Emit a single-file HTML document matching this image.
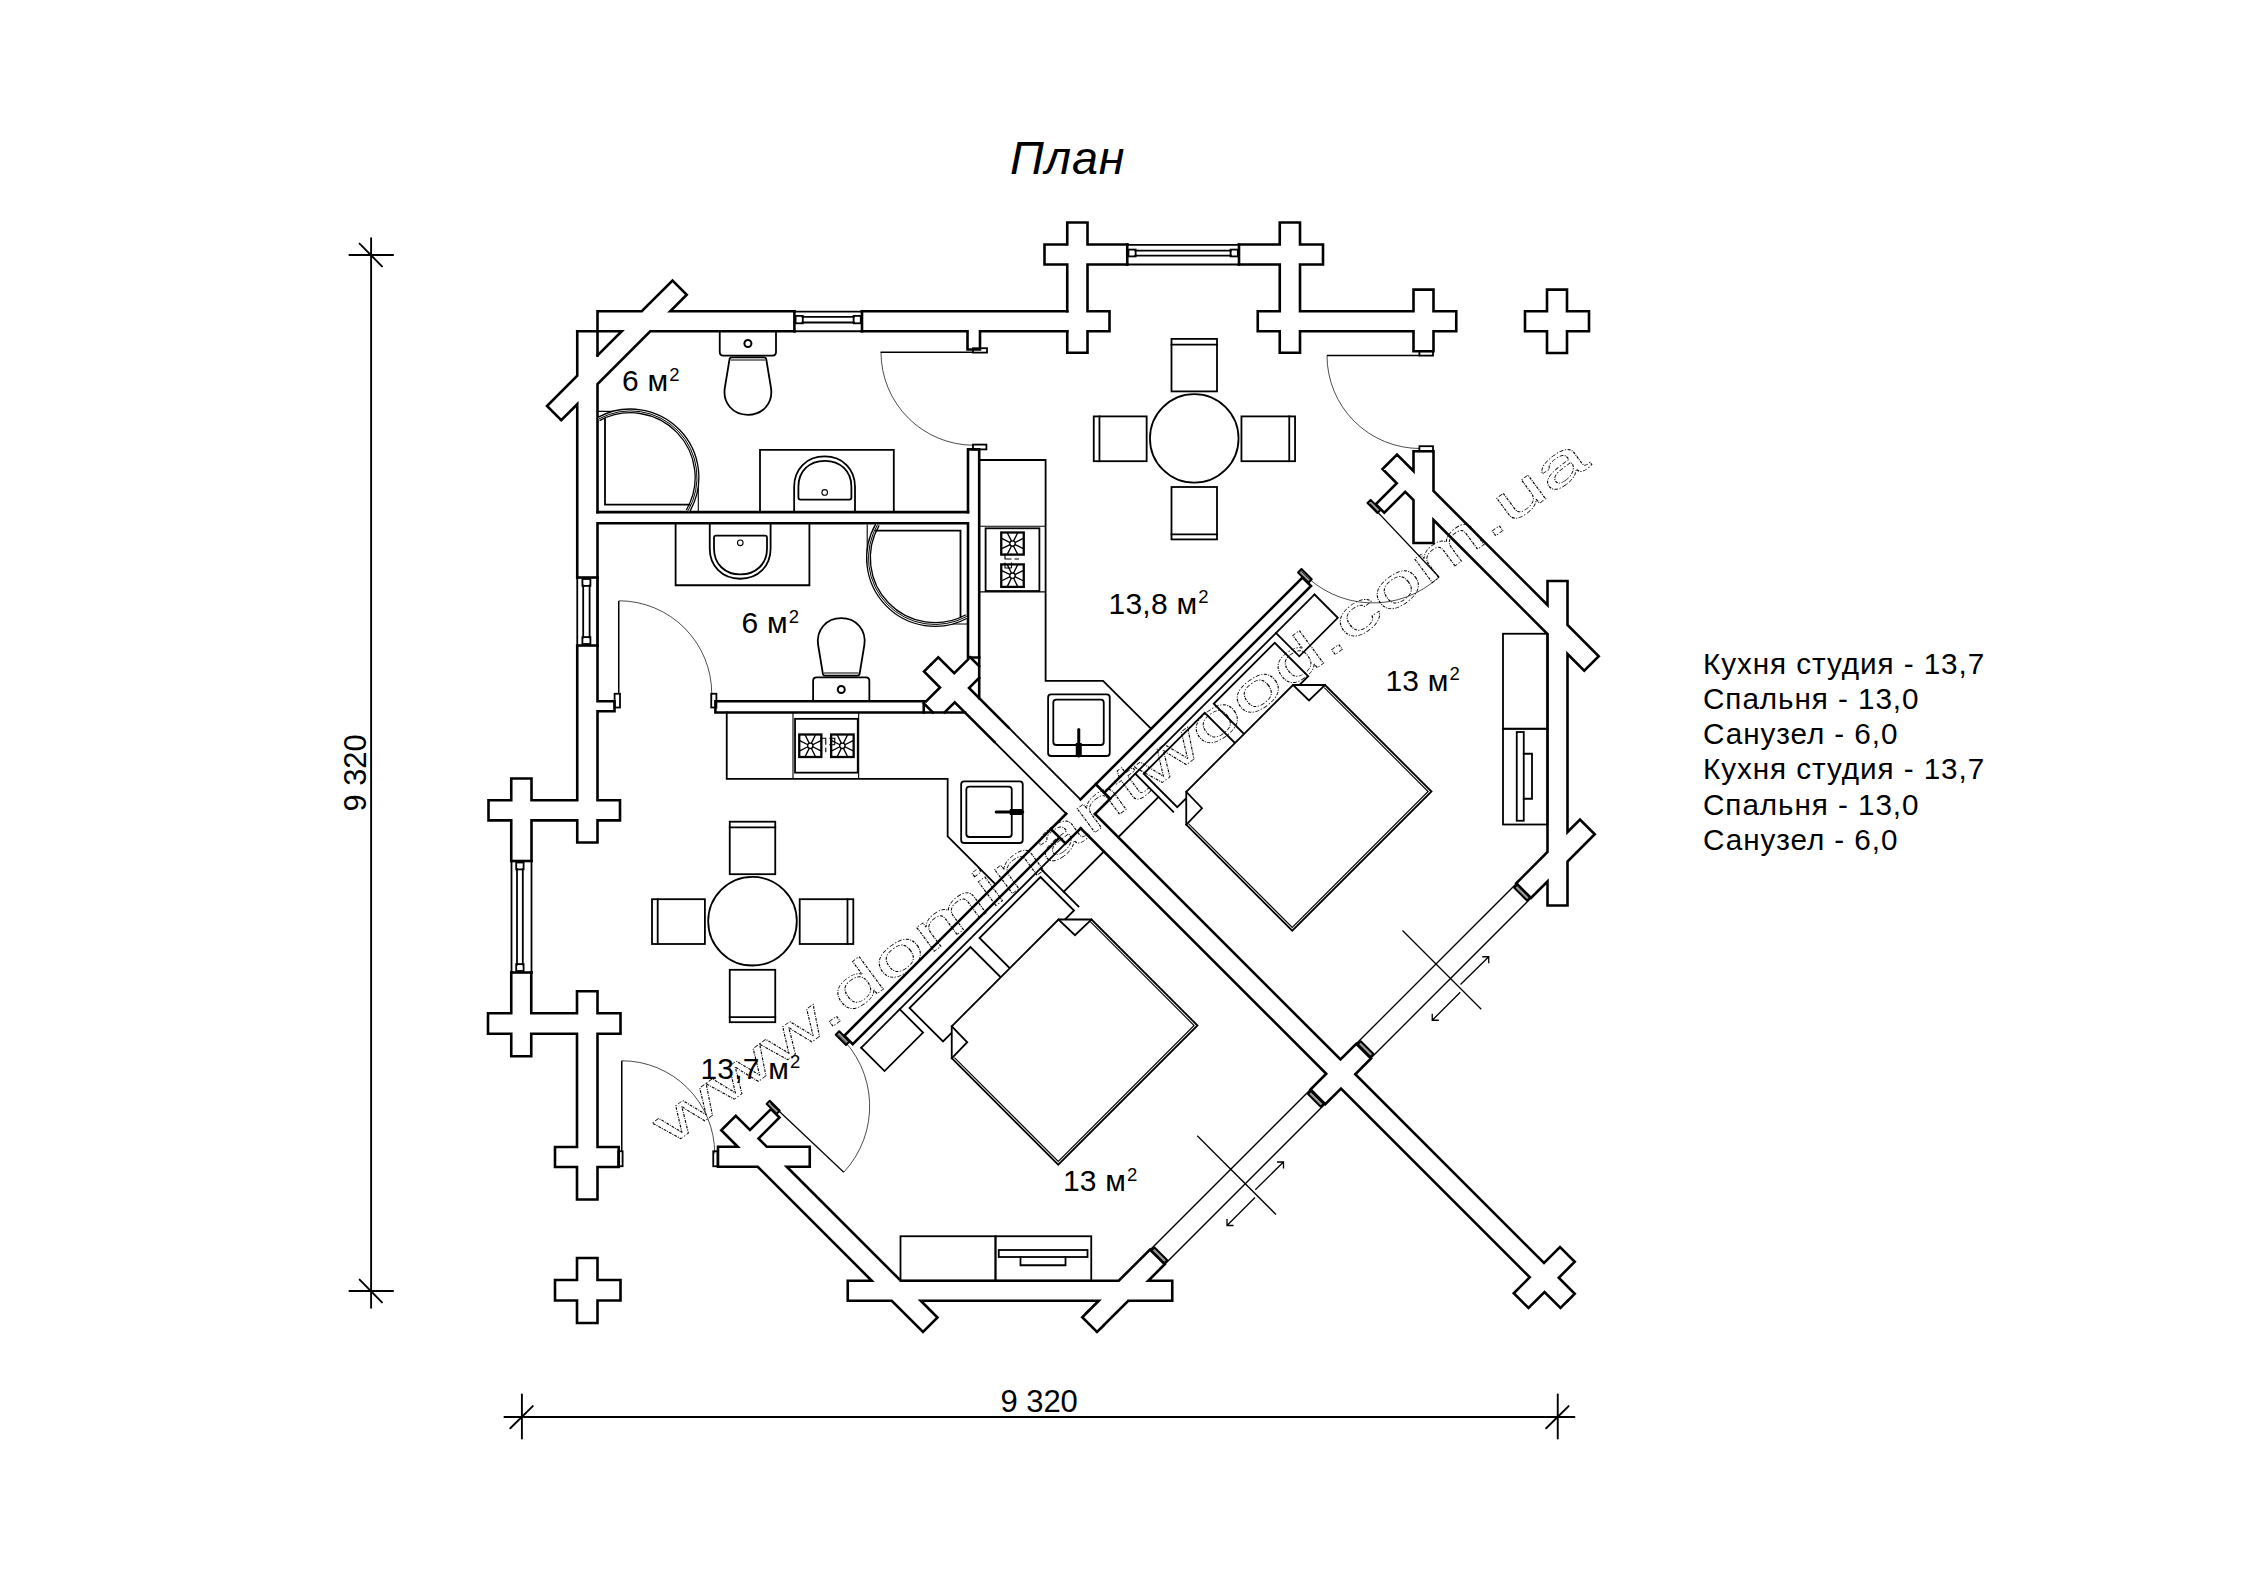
<!DOCTYPE html>
<html lang="ru"><head><meta charset="utf-8"><title>План</title>
<style>
html,body{margin:0;padding:0;background:#fff}
svg{display:block}
text{font-family:"Liberation Sans",sans-serif;fill:#000}
.w{fill:none;stroke:#000;stroke-width:2.6;stroke-linecap:square;stroke-linejoin:miter}
.f{fill:none;stroke:#000;stroke-width:1.8;stroke-linecap:square}
.s{fill:none;stroke:#000;stroke-width:1.35}
.x{fill:#fff;stroke:none}
.b{fill:none;stroke:#000;stroke-width:2.3}
.l{fill:none;stroke:#000;stroke-width:1.25}
.d{fill:none;stroke:#000;stroke-width:1.5}
.t{fill:none;stroke:#000;stroke-width:1.1}
.n{fill:none;stroke:#000;stroke-width:1.3}
.a{fill:none;stroke:#000;stroke-width:0.7}
.h{fill:#999;stroke:#000;stroke-width:2;stroke-linejoin:round}
.dm{fill:none;stroke:#000;stroke-width:1.9;stroke-linecap:round}
</style></head><body>
<svg width="2245" height="1587" viewBox="0 0 2245 1587">
<rect width="2245" height="1587" fill="#fff"/>
<g id="half">
<polygon class="w" points="1413.5,451.25 1433.5,451.25 1433.5,491 1547.5,605 1547.5,581 1567.5,581 1567.5,625 1598.75,656.25 1584.25,670.75 1567.5,654 1567.5,832 1580,819.5 1594.75,834.25 1567.5,861.5 1567.5,905.5 1547.5,905.5 1547.5,881.5 1531,898 1516.25,883.25 1547.5,852 1547.5,634 1433.5,520 1433.5,543 1413.5,543 1413.5,500 1405.25,491.75 1384.25,512.75 1375.75,504.25 1396.75,483.25 1382.5,469 1397,454.5 1413.5,471"/>
<polygon class="h" points="1367.5,503 1370.65,499.85 1380.65,509.85 1377.5,513"/>
<polygon class="h" points="1298.05,572.45 1301.5,569 1311.75,579.25 1308.3,582.7"/>
<path class="l" d="M1370 504L1439 577"/>
<path class="a" d="M1439 577A97 97 0 0 1 1301.5 571.5"/>
<polyline class="w" points="1080.5,799.5 1302.5,577.5 1311,586 1104.25,792.75"/>
<polyline class="w" points="1095.75,784.25 1110.25,798.75 1095,814"/>
<polyline class="w" points="931.12,664.38 938.25,657.25 954.25,673.25 968,659.5"/>
<path class="w" d="M970.25 657.25L979.2 666.2"/>
<polyline class="w" points="979.2,677.8 969,688 1008.5,727.5"/>
<path class="f" d="M1008.5 727.5L1080.5 799.5"/>
<polyline class="w" points="1095,814 1340.5,1059.5 1356.25,1043.75 1371,1058.5 1355.25,1074.25 1544,1263 1560,1247 1574.75,1261.75 1558.75,1277.75 1574.75,1293.75 1567.62,1300.88"/>
<path class="s" d="M1356.25 1043.75L1516.5 883.5"/>
<path class="s" d="M1370.75 1058.25L1531 898"/>
<polygon class="h" points="1357.75,1044.25 1360.75,1041.25 1373.5,1054 1370.5,1057"/>
<polygon class="h" points="1514.25,887.75 1517.25,884.75 1530,897.5 1527,900.5"/>
<polyline class="f" points="979.2,460 1045.6,460 1045.6,680.9 1103.1,680.9 1150.3,728"/>
<path class="t" d="M979.2 526.25L1045.6 526.25"/>
<path class="t" d="M979.2 591.9L1045.6 591.9"/>
<rect class="f" x="985.6" y="528.3" width="53.8" height="62.7"/>
<rect class="b" x="1001.25" y="532.5" width="22.5" height="22.1"/>
<path class="s" d="M1014.9 544.54L1023.75 548.91M1013.49 545.95L1017.86 554.6M1011.51 545.95L1007.14 554.6M1010.1 544.54L1001.25 548.91M1010.1 542.56L1001.25 538.19M1011.51 541.15L1007.14 532.5M1013.49 541.15L1017.86 532.5M1014.9 542.56L1023.75 538.19"/>
<circle class="s" cx="1012.5" cy="543.55" r="2.7"/>
<rect class="b" x="1001.25" y="564.4" width="22.5" height="22.5"/>
<path class="s" d="M1014.9 576.64L1023.75 581.01M1013.49 578.05L1017.86 586.9M1011.51 578.05L1007.14 586.9M1010.1 576.64L1001.25 581.01M1010.1 574.66L1001.25 570.29M1011.51 573.25L1007.14 564.4M1013.49 573.25L1017.86 564.4M1014.9 574.66L1023.75 570.29"/>
<circle class="s" cx="1012.5" cy="575.65" r="2.7"/>
<path class="t" d="M1005 553.5V559H1011.5M1005 562.5V568H1011.5M1011.5 562.5V568M1014.5 559H1019"/>
<rect class="f" x="1048.1" y="694.4" width="61.65" height="61.6" rx="3"/>
<rect class="f" x="1053.3" y="699.6" width="50.45" height="45.4" rx="3"/>
<path d="M1078.75 729.5V756" stroke="#000" stroke-width="3" stroke-linecap="round" fill="none"/>
<path d="M1078.75 743V756" stroke="#000" stroke-width="6" fill="none"/>
<rect class="f" x="1503" y="633.75" width="44.5" height="95"/>
<rect class="f" x="1503" y="728.75" width="44.5" height="95.75"/>
<rect class="f" x="1516.75" y="732" width="7" height="88.75"/>
<polyline class="f" points="1523.75,753.75 1532,753.75 1532,798.75 1523.75,798.75"/>
<path class="f" d="M1110.25 798.75L1314.5 594.5"/>
<polyline class="f" points="1314.5,594.5 1337.8,617.8 1299.3,656.3 1276,633"/>
<polyline class="f" points="1118.25,837.25 1158.5,797"/>
<path class="f" d="M1135.25 773.75L1173.25 811.75"/>
<polygon class="f" points="1213.75,703.75 1274.75,642.75 1308.25,676.25 1247.25,737.25"/>
<polygon class="f" points="1143.75,773.75 1204.75,712.75 1238.25,746.25 1177.25,807.25"/>
<polygon class="f" points="1293,685 1325,685 1431.5,791.5 1292.25,930.75 1186.25,824.75 1186.25,791.75" style="fill:#fff"/>
<polyline class="f" points="1293,685 1309,700.5 1325,685"/>
<polyline class="f" points="1186.25,791.75 1202,808.25 1186.25,824.75"/>
<polyline class="t" points="1324.3,687.7 1428.1,791.5 1292.25,927.35 1188.45,823.55"/>
</g>
<use href="#half" transform="matrix(0 1 1 0 266.75 -266.75)"/>
<polygon class="x" points="1089.35,1311.35 1083.45,1317.25 1097,1330.8 1102.9,1324.9"/>
<polyline class="w" points="1088.75,1310.75 1082.25,1317.25 1097,1332 1103.5,1325.5"/>
<polyline class="w" points="597.5,355.5 597.5,311.25 641.75,311.25 672.5,280.5 686.75,294.75 670.25,311.25 794.4,311.25"/>
<polyline class="w" points="577.25,331.25 621.75,331.25 597.5,355.5"/>
<polyline class="w" points="577.25,331.25 577.25,375.75 547,406 561.25,420.25 577.25,404.25 577.25,577.5"/>
<polyline class="w" points="794.4,331.25 650.25,331.25 597.5,384 597.5,512.1"/>
<path class="w" d="M794.4 311.25L794.4 331.25"/>
<path class="w" d="M862 311.25L862 331.25"/>
<path class="f" d="M794.4 311.55L862 311.55"/>
<path class="f" d="M794.4 331.25L862 331.25"/>
<path class="f" d="M802.4 316.9L854 316.9"/>
<path class="f" d="M802.4 322.5L854 322.5"/>
<rect class="f" x="795.6" y="315.9" width="7.2" height="7.4"/>
<rect class="f" x="853.6" y="315.9" width="7.2" height="7.4"/>
<path class="w" d="M862 311.25L1067.25 311.25"/>
<polyline class="w" points="862,331.25 967.5,331.25 967.5,349.5 980,349.5 980,331.25 1067.25,331.25"/>
<rect class="f" x="973" y="348.2" width="14" height="4.4"/>
<polyline class="w" points="1067.25,311.25 1067.25,264.5 1044.5,264.5 1044.5,244.5 1067.25,244.5 1067.25,222.5 1087.5,222.5 1087.5,244.5 1127.25,244.5"/>
<polyline class="w" points="1127.25,264.5 1087.5,264.5 1087.5,311.25 1109.5,311.25 1109.5,331.25 1087.5,331.25 1087.5,352.75 1067.25,352.75 1067.25,331.25"/>
<path class="w" d="M1127.25 244.5L1127.25 264.5"/>
<path class="w" d="M1239 244.5L1239 264.5"/>
<path class="f" d="M1127.25 244.8L1239 244.8"/>
<path class="f" d="M1127.25 264.5L1239 264.5"/>
<path class="f" d="M1135.25 250.6L1231 250.6"/>
<path class="f" d="M1135.25 255.6L1231 255.6"/>
<rect class="f" x="1128.45" y="249.6" width="7.2" height="6.8"/>
<rect class="f" x="1230.6" y="249.6" width="7.2" height="6.8"/>
<polyline class="w" points="1239,244.5 1279.75,244.5 1279.75,222.5 1300,222.5 1300,244.5 1323,244.5 1323,264.5 1300,264.5 1300,311.25 1413.5,311.25 1413.5,289.6 1433.5,289.6 1433.5,311.25 1456.25,311.25 1456.25,331.25 1433.5,331.25 1433.5,351.25 1413.5,351.25 1413.5,331.25 1300,331.25 1300,352.75 1279.75,352.75 1279.75,331.25 1257.75,331.25 1257.75,311.25 1279.75,311.25 1279.75,264.5 1239,264.5"/>
<polygon class="w" points="1547,289.6 1567,289.6 1567,311.25 1589,311.25 1589,331.25 1567,331.25 1567,353 1547,353 1547,331.25 1525,331.25 1525,311.25 1547,311.25"/>
<polygon class="w" points="577,1258 597.5,1258 597.5,1280 620.5,1280 620.5,1300.5 597.5,1300.5 597.5,1323 577,1323 577,1300.5 555,1300.5 555,1280 577,1280"/>
<rect class="f" x="1419.4" y="351.2" width="13.6" height="4.4"/>
<path class="d" d="M1327 355.5L1419.4 355.5"/>
<path class="a" d="M1327 355.5A93 93 0 0 0 1420 448.5"/>
<rect class="f" x="1419.4" y="446.2" width="13.6" height="5"/>
<path class="w" d="M577.25 577.5L597.5 577.5"/>
<path class="w" d="M577.25 645.5L597.5 645.5"/>
<path class="f" d="M577.25 577.5L577.25 645.5"/>
<path class="f" d="M597.5 577.5L597.5 645.5"/>
<path class="f" d="M583.2 585.5L583.2 637.5"/>
<path class="f" d="M589.6 585.5L589.6 637.5"/>
<rect class="f" x="582.4" y="579" width="8" height="6.9"/>
<rect class="f" x="582.4" y="637.1" width="8" height="6.9"/>
<polyline class="w" points="577.25,645.5 577.25,800.25 531.5,800.25 531.5,778.5 511.25,778.5 511.25,800.25 488.5,800.25 488.5,820.4 511.25,820.4 511.25,861"/>
<polyline class="w" points="531.5,861 531.5,820.4 577.25,820.4 577.25,842.5 597.5,842.5 597.5,820.4 620,820.4 620,800.25 597.5,800.25 597.5,711.25 614.5,711.25 614.5,701.25 597.5,701.25 597.5,645.5"/>
<rect class="f" x="614.6" y="693.75" width="5.4" height="13.75"/>
<path class="w" d="M511.5 861L531.5 861"/>
<path class="w" d="M511.5 972.5L531.5 972.5"/>
<path class="f" d="M511.5 861L511.5 972.5"/>
<path class="f" d="M531.5 861L531.5 972.5"/>
<path class="f" d="M517 869L517 964.5"/>
<path class="f" d="M522.8 869L522.8 964.5"/>
<rect class="f" x="516.2" y="862.5" width="7.4" height="6.9"/>
<rect class="f" x="516.2" y="964.1" width="7.4" height="6.9"/>
<polyline class="w" points="511.25,972.5 511.25,1013.25 488,1013.25 488,1033.75 511.25,1033.75 511.25,1056.25 531.25,1056.25 531.25,1033.75 577,1033.75 577,1147 555,1147 555,1167 577,1167 577,1199.5 597.5,1199.5 597.5,1167 618.75,1167 618.75,1147 597.5,1147 597.5,1033.75 620.5,1033.75 620.5,1013.25 597.5,1013.25 597.5,991.25 577,991.25 577,1013.25 531.25,1013.25 531.25,972.5"/>
<rect class="f" x="618.2" y="1151.25" width="4.4" height="15"/>
<path class="d" d="M621.75 1060.75L621.75 1151.25"/>
<path class="a" d="M621.75 1060.75A93 93 0 0 1 714.75 1153.5"/>
<rect class="f" x="713.25" y="1151.25" width="4.35" height="15"/>
<path class="w" d="M597.5 512.1L968 512.1"/>
<polyline class="w" points="597.5,645.5 597.5,523.3 968,523.3 968,657.5 979.2,657.5"/>
<polyline class="w" points="968,512.1 968,449.4 979.2,449.4 979.2,698.2"/>
<rect class="f" x="973" y="444.6" width="13.4" height="4.8"/>
<path class="d" d="M880.6 352.25L973 352.25"/>
<path class="a" d="M881 352.25A93 93 0 0 0 974 445.25"/>
<polyline class="w" points="925,701.25 715.4,701.25 715.4,712.5 965,712.5"/>
<path class="w" d="M923.75 701.25L923.75 712.5"/>
<rect class="f" x="711.25" y="693.75" width="5.15" height="13.75"/>
<path class="d" d="M618.75 601L618.75 693.75"/>
<path class="a" d="M618.75 600.75A93 93 0 0 1 711.75 693.75"/>
<g id="wc"><path class="f" d="M719.75 332.5V352.1Q719.75 355.6 723.25 355.6H772.5Q776 355.6 776 352.1V332.5"/><circle class="f" cx="747.9" cy="343.5" r="3.5" style="stroke-width:2"/><path class="f" d="M731.8 357.4H764Q766 357.4 766.3 359.4L771 388C773.2 403 763 414.8 747.9 414.8C732.8 414.8 722.6 403 724.8 388L729.5 359.4Q729.8 357.4 731.8 357.4Z"/><path class="t" d="M730.5 360H765.3"/></g>
<use href="#wc" transform="translate(93.35 1033) scale(1 -1)"/>
<g id="sk"><path class="f" d="M675.6 523.3V585.25H809.4V523.3"/><path class="f" d="M709.75 523.3V548.5C709.75 566 722 578.75 740.2 578.75C758.4 578.75 770.6 566 770.6 548.5V523.3"/><path class="f" d="M716 535.6H765Q767 535.6 767 537.6V548.5C767 564 756 574.4 740.4 574.4C724.8 574.4 714 564 714 548.5V537.6Q714 535.6 716 535.6Z"/><circle class="t" cx="740.3" cy="542.8" r="2.8"/></g>
<use href="#sk" transform="translate(84.4 1035.2) scale(1 -1)"/>
<path class="t" d="M597.5 411.4L637.5 411.4"/>
<path class="t" d="M698.3 510.9L698.3 474.9"/>
<path d="M598.7 419A66.5 66.5 0 0 1 687.95 510.9" fill="none" stroke="#000" stroke-width="5"/>
<path d="M598.7 419A66.5 66.5 0 0 1 687.95 510.9" fill="none" stroke="#fff" stroke-width="2.4"/>
<path d="M598.7 419A66.5 66.5 0 0 1 687.95 510.9" fill="none" stroke="#000" stroke-width="1"/>
<polyline class="f" points="605,418.9 605,504.7 689.5,504.7"/>
<path class="t" d="M968 624L928 624"/>
<path class="t" d="M867.2 524.5L867.2 560.5"/>
<path d="M966.8 616.4A66.5 66.5 0 0 1 877.55 524.5" fill="none" stroke="#000" stroke-width="5"/>
<path d="M966.8 616.4A66.5 66.5 0 0 1 877.55 524.5" fill="none" stroke="#fff" stroke-width="2.4"/>
<path d="M966.8 616.4A66.5 66.5 0 0 1 877.55 524.5" fill="none" stroke="#000" stroke-width="1"/>
<polyline class="f" points="960.5,616.5 960.5,530.7 876,530.7"/>
<circle class="f" cx="1194.25" cy="438.4" r="44.3"/>
<rect class="f" x="1171.5" y="338.9" width="45.5" height="52.5"/>
<path class="f" d="M1171.5 344.6L1217 344.6"/>
<rect class="f" x="1171.5" y="487" width="45.5" height="52.4"/>
<path class="f" d="M1171.5 534.3L1217 534.3"/>
<rect class="f" x="1093.75" y="416.4" width="52.9" height="44.8"/>
<path class="f" d="M1099.45 416.4L1099.45 461.2"/>
<rect class="f" x="1241.45" y="416.4" width="53.6" height="44.8"/>
<path class="f" d="M1289.25 416.4L1289.25 461.2"/>
<circle class="f" cx="752.5" cy="921.2" r="44.3"/>
<rect class="f" x="729.75" y="821.7" width="45.5" height="52.5"/>
<path class="f" d="M729.75 827.4L775.25 827.4"/>
<rect class="f" x="729.75" y="969.8" width="45.5" height="52.4"/>
<path class="f" d="M729.75 1017.1L775.25 1017.1"/>
<rect class="f" x="652" y="899.2" width="52.9" height="44.8"/>
<path class="f" d="M657.7 899.2L657.7 944"/>
<rect class="f" x="799.7" y="899.2" width="53.6" height="44.8"/>
<path class="f" d="M847.5 899.2L847.5 944"/>
<path class="n" d="M1402.5 930.5L1481.25 1009.25"/>
<path class="n" d="M1460.5 984.5L1488.75 956.75M1482.25 956.75H1488.75V963.25"/>
<path class="n" d="M1460.25 992.25L1432.25 1020.25M1438.75 1020.25H1432.25V1013.75"/>
<path class="n" d="M1197.25 1135.75L1276 1214.5"/>
<path class="n" d="M1255.25 1189.75L1283.5 1162M1277 1162H1283.5V1168.5"/>
<path class="n" d="M1255 1197.5L1227 1225.5M1233.5 1225.5H1227V1219"/>
<path class="dm" d="M371.1 238.1L371.1 1307.8"/>
<path class="dm" d="M349.4 255L393.1 255"/>
<path class="dm" d="M359.6 243.6L382 266.4"/>
<path class="dm" d="M349.4 1291L393.1 1291"/>
<path class="dm" d="M359.6 1279.6L382 1302.4"/>
<path class="dm" d="M504.4 1417L1574.4 1417"/>
<path class="dm" d="M521.9 1394.4L521.9 1438.5"/>
<path class="dm" d="M510.3 1428.3L532.8 1406.1"/>
<path class="dm" d="M1557.75 1394.4L1557.75 1438.5"/>
<path class="dm" d="M1546.15 1428.3L1568.65 1406.1"/>
<text x="622" y="391.3" font-size="30" letter-spacing="0.25">6 м<tspan font-size="18.5" dy="-10.8" dx="0.8">2</tspan></text>
<text x="741.6" y="633.3" font-size="30" letter-spacing="0.25">6 м<tspan font-size="18.5" dy="-10.8" dx="0.8">2</tspan></text>
<text x="1108.5" y="613.8" font-size="30" letter-spacing="0.25">13,8 м<tspan font-size="18.5" dy="-10.8" dx="0.8">2</tspan></text>
<text x="1385.4" y="690.5" font-size="30" letter-spacing="0.25">13 м<tspan font-size="18.5" dy="-10.8" dx="0.8">2</tspan></text>
<text x="700.4" y="1079.2" font-size="30" letter-spacing="0.25">13,7 м<tspan font-size="18.5" dy="-10.8" dx="0.8">2</tspan></text>
<text x="1062.9" y="1191.3" font-size="30" letter-spacing="0.25">13 м<tspan font-size="18.5" dy="-10.8" dx="0.8">2</tspan></text>
<text x="1010" y="173.8" font-size="46.7" font-style="italic" letter-spacing="0.9">План</text>
<text x="1000.6" y="1412" font-size="31" letter-spacing="-0.1">9 320</text>
<text transform="translate(366.2 811.5) rotate(-90)" font-size="31" letter-spacing="-0.1">9 320</text>
<text x="1703" y="674.3" font-size="29.7" letter-spacing="0.93">Кухня студия - 13,7</text>
<text x="1703" y="709.36" font-size="29.7" letter-spacing="0.93">Спальня - 13,0</text>
<text x="1703" y="744.42" font-size="29.7" letter-spacing="0.93">Санузел - 6,0</text>
<text x="1703" y="779.48" font-size="29.7" letter-spacing="0.93">Кухня студия - 13,7</text>
<text x="1703" y="814.54" font-size="29.7" letter-spacing="0.93">Спальня - 13,0</text>
<text x="1703" y="849.6" font-size="29.7" letter-spacing="0.93">Санузел - 6,0</text>
<text transform="translate(670 1146.8) rotate(-36.5) scale(1.645 1)" font-size="56" style="fill:none;stroke:#000;stroke-width:0.75;stroke-dasharray:2.6 1.1 0.9 1.1">www.dominantwood.com.ua</text>
</svg></body></html>
